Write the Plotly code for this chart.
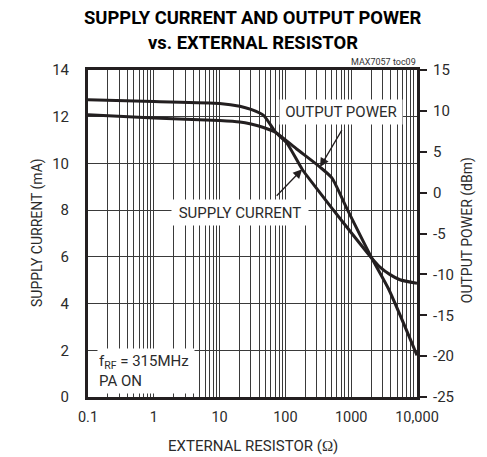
import numpy as np
import plotly.graph_objects as go

# ---- data ----
res_supply = [0.1, 1, 10, 20.3, 30, 46.5, 71.4, 106, 180, 336, 750, 2070, 2740, 3900, 5500, 10000]
supply_ma = [12.73, 12.65, 12.57, 12.45, 12.31, 12.06, 11.33, 10.86, 9.75, 8.74, 7.48, 5.93, 5.56, 5.24, 5.02, 4.87]

res_power = [0.1, 1, 10, 20.3, 30, 46.5, 71.4, 148, 336, 508, 860, 2070, 3670, 10000]
power_dbm = [9.52, 9.13, 8.82, 8.64, 8.39, 7.97, 7.36, 5.34, 3.12, 1.80, -1.96, -8.06, -11.73, -19.9]

x_tickvals = [0.1, 1, 10, 100, 1000, 10000]
x_ticktext = ["0.1", "1", "10", "100", "1000", "10,000"]
x_minor = [m * d for d in [0.1, 1, 10, 100, 1000] for m in range(2, 10)]
y_tickvals = [0, 2, 4, 6, 8, 10, 12, 14]
y2_tickvals = [-25, -20, -15, -10, -5, 0, 5, 10, 15]
y2_ticktext = ["-25", "-20", "-15", "-10", "-5", "0", "5", "10", "15"]

FONT = "Roboto, Liberation Sans, Arial, sans-serif"
INK = "#231f20"
TXT = "#2b2b2b"
GRID = "#3a3a3a"

fig = go.Figure()
fig.add_trace(go.Scatter(x=res_supply, y=supply_ma, mode="lines", yaxis="y",
                         line=dict(color=INK, width=3, shape="spline", smoothing=0.6),
                         showlegend=False, hoverinfo="skip"))
fig.add_trace(go.Scatter(x=res_power, y=power_dbm, mode="lines", yaxis="y2",
                         line=dict(color=INK, width=3, shape="spline", smoothing=0.6),
                         showlegend=False, hoverinfo="skip"))

# page body has an 8px default margin, so the figure is sized to fit inside the window
fig.update_layout(
    width=479, height=449,
    margin=dict(l=80, r=70, t=62, b=60),
    paper_bgcolor="white", plot_bgcolor="white",
    font=dict(family=FONT, color=TXT, size=15),
    xaxis=dict(type="log", range=[-1, 4], tickvals=x_tickvals, ticktext=x_ticktext,
               showgrid=True, gridcolor=GRID, gridwidth=1,
               minor=dict(tickvals=x_minor, showgrid=True, gridcolor=GRID, gridwidth=1, ticks=""),
               showline=True, linewidth=3, linecolor=INK, mirror=True, ticks="",
               tickfont=dict(size=14.5), ticklabelstandoff=5, zeroline=False),
    yaxis=dict(range=[0, 14], tickvals=y_tickvals, showgrid=True, gridcolor=GRID, gridwidth=1,
               showline=True, linewidth=3, linecolor=INK, mirror=True, ticks="",
               tickfont=dict(size=15), ticklabelstandoff=13, zeroline=False),
    yaxis2=dict(range=[-25, 15], tickvals=y2_tickvals, ticktext=y2_ticktext, overlaying="y",
                side="right", showgrid=False, zeroline=False,
                showline=True, linewidth=3, linecolor=INK,
                ticks="outside", ticklen=7, tickwidth=2, tickcolor=INK,
                tickfont=dict(size=15), ticklabelstandoff=3),
)

ann = []
# title
ann.append(dict(text="<b>SUPPLY CURRENT AND OUTPUT POWER</b>", xref="paper", yref="paper",
                x=0.5, y=1.1606, showarrow=False, font=dict(size=18.4, color="black"),
                xanchor="center", yanchor="middle"))
ann.append(dict(text="<b>vs. EXTERNAL RESISTOR</b>", xref="paper", yref="paper",
                x=0.5, y=1.0841, showarrow=False, font=dict(size=18.4, color="black"),
                xanchor="center", yanchor="middle"))
ann.append(dict(text="MAX7057 toc09", xref="paper", yref="paper", x=1.003, y=1.024,
                showarrow=False, font=dict(size=9, color="#333"), xanchor="right", yanchor="middle"))
# axis titles
ann.append(dict(text="SUPPLY CURRENT (mA)", xref="paper", yref="paper", x=-0.155, y=0.5015,
                showarrow=False, textangle=-90, font=dict(size=14, color=TXT),
                xanchor="center", yanchor="middle"))
ann.append(dict(text="OUTPUT POWER (dBm)", xref="paper", yref="paper", x=1.152, y=0.51,
                showarrow=False, textangle=-90, font=dict(size=14, color=TXT),
                xanchor="center", yanchor="middle"))
ann.append(dict(text="EXTERNAL RESISTOR (<span style='font-family:Liberation Serif'>Ω</span>)",
                xref="paper", yref="paper", x=0.5, y=-0.15, showarrow=False,
                font=dict(size=15, color=TXT), xanchor="center", yanchor="middle"))
# label boxes
ann.append(dict(text="OUTPUT POWER", xref="paper", yref="paper", x=0.7705, y=0.873,
                showarrow=False, bgcolor="white", width=120, height=22, borderpad=1,
                font=dict(size=15, color=TXT), xanchor="center", yanchor="middle"))
ann.append(dict(text="SUPPLY CURRENT", xref="paper", yref="paper", x=0.462, y=0.5657,
                showarrow=False, bgcolor="white", width=134, height=23, borderpad=1,
                font=dict(size=15, color=TXT), xanchor="center", yanchor="middle"))
ann.append(dict(text="f<sub>RF</sub> = 315MHz<br>PA ON", xref="paper", yref="paper",
                x=0.1763, y=0.081, showarrow=False, bgcolor="white", width=94, height=42,
                borderpad=1, align="left", font=dict(size=15, color=TXT),
                xanchor="center", yanchor="middle"))
# arrows
ip = res_power.index(336)
ann.append(dict(text=" ", x=np.log10(res_power[ip]), y=power_dbm[ip], xref="x", yref="y2",
                showarrow=True, ax=23, ay=-39, arrowhead=2, arrowsize=1.4, arrowwidth=1.3,
                arrowcolor=INK, standoff=0, font=dict(size=1)))
isup = res_supply.index(180)
ann.append(dict(text=" ", x=np.log10(res_supply[isup]), y=supply_ma[isup], xref="x", yref="y",
                showarrow=True, ax=-27, ay=28, arrowhead=2, arrowsize=1.4, arrowwidth=1.3,
                arrowcolor=INK, standoff=0, font=dict(size=1)))
fig.update_layout(annotations=ann)

fig.write_html("out.html")
